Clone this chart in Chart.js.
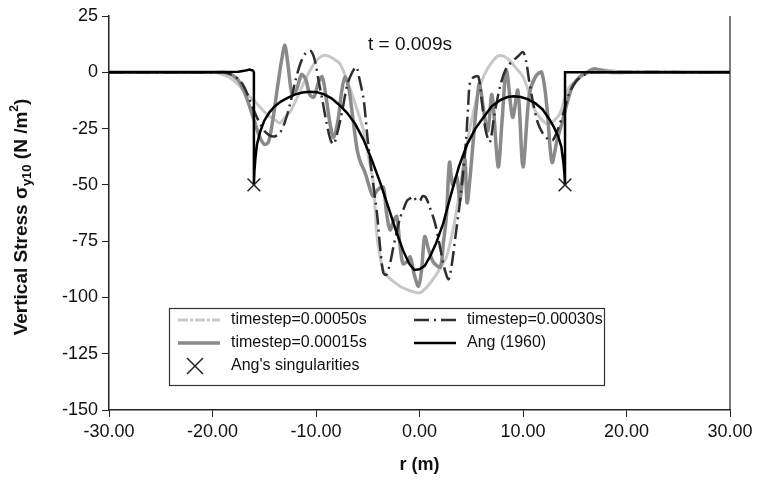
<!DOCTYPE html>
<html>
<head>
<meta charset="utf-8">
<script src="https://cdn.jsdelivr.net/npm/chart.js@4/dist/chart.umd.min.js"></script>
<style>
  body { margin: 0; background: #fff; }
</style>
</head>
<body>
<canvas id="myChart" width="757" height="482"></canvas>
<script>
// x ticks / y ticks
var xTicks = [-30, -20, -10, 0, 10, 20, 30];
var yTicks = [25, 0, -25, -50, -75, -100, -125, -150];

// timestep = 0.00050s (light grey)
var r050 = [-30, -20, -19.5, -19, -18.5, -18, -17.5, -17, -16.5, -16, -15.5, -15, -14.5, -14, -13.5, -13, -12.5, -12, -11.5, -11, -10.5, -10, -9.5, -9, -8.5, -8, -7.7, -7.3, -7, -6.5, -6, -5.4, -5, -4.5, -4.3, -4.1, -3.8, -3.5, -3, -2.5, -1.9, -1.2, -0.6, 0, 0.6, 1.3, 2, 2.6, 3, 3.3, 3.7, 4.1, 4.5, 5, 5.5, 6, 6.5, 7, 7.5, 7.8, 8.2, 8.7, 9.3, 10, 10.5, 11, 11.6, 12.3, 13, 13.6, 14, 14.5, 15.3, 16.1, 17, 18, 19, 20.6, 30];
var v050 = [0, 0, -0.3, -1, -2, -3.5, -5.5, -8, -10.5, -12.5, -15, -17.5, -19.5, -21, -22.5, -20, -17.5, -13, -8, -3, 1.5, 5, 7, 7.5, 6.5, 5, 3.9, 0, -3.6, -10, -17, -26, -36, -48, -60, -73, -82, -88, -91, -93, -95, -96.5, -97.5, -98, -96, -92, -87, -82, -75, -68.7, -58, -46, -34, -22, -12, -4, 1, 4.5, 7, 7.5, 7, 5.3, 2, -2, -8, -15.4, -20, -22.8, -21.5, -18, -12, -6.5, -3, -0.6, 0.5, 1, 0.5, 0, 0];

// timestep = 0.00030s (dark dashed)
var r030 = [-30, -19, -18.5, -18, -17.5, -17, -16.5, -16, -15.5, -15, -14.5, -14, -13.5, -13, -12.5, -12, -11.5, -11, -10.5, -10.1, -9.7, -9.4, -9, -8.6, -8.3, -8, -7.5, -7, -6.5, -6.1, -5.8, -5.4, -5, -4.6, -4.1, -3.8, -3.5, -3.2, -2.8, -2.5, -2.2, -1.9, -1.56, -1.2, -0.9, -0.6, -0.3, 0.05, 0.3, 0.6, 1, 1.5, 2, 2.4, 2.8, 3.1, 3.5, 3.9, 4.2, 4.5, 4.7, 4.9, 5.3, 5.7, 6, 6.4, 6.8, 7.2, 7.8, 8.4, 9, 9.5, 10, 10.3, 10.6, 11, 11.4, 11.9, 12.5, 12.9, 13.4, 13.9, 14.5, 15.2, 16, 16.8, 30];
var v030 = [0, 0, -0.5, -1.5, -3, -6, -11, -17, -22, -26, -28, -28.5, -27, -22, -14, -4, 4, 8.5, 9.5, 5, -5, -12, -22, -30, -32, -28, -18, -6, 0, 2.4, -3, -12, -30, -45, -63, -78, -89, -90, -84, -77, -71, -65, -61, -57, -56, -55, -57, -57, -55, -55.5, -60, -67, -78, -87, -92, -86, -72, -58, -45, -30, -15, -4, -2, -2, -12, -26, -31, -20, -6, 2, 5, 7, 9, 5, -4, -14, -22, -27, -30, -30, -25, -18, -9, -3.6, -1, 0, 0];

// timestep = 0.00015s (medium grey)
var r015 = [-30, -19, -18.5, -18, -17.5, -17, -16.5, -16, -15.5, -15, -14.6, -14.2, -13.7, -13.3, -13, -12.7, -12.3, -11.9, -11.4, -11, -10.6, -10.2, -9.8, -9.4, -9, -8.6, -8.3, -7.9, -7.5, -7.2, -6.8, -6.4, -6, -5.7, -5.3, -4.9, -4.5, -4, -3.5, -3.2, -2.85, -2.5, -2.2, -1.9, -1.6, -1.2, -0.9, -0.5, -0.1, 0.2, 0.5, 0.9, 1.3, 2, 2.3, 2.6, 2.9, 3.2, 3.6, 3.9, 4.2, 4.4, 4.6, 4.9, 5.2, 5.5, 5.8, 6.2, 6.6, 7, 7.6, 8, 8.4, 9, 9.5, 10, 10.6, 11.2, 11.8, 12.3, 12.8, 13.3, 13.8, 14.3, 14.8, 15.5, 16.2, 16.8, 17.5, 18.4, 20, 30];
var v015 = [0, 0, -0.5, -1.5, -3.5, -8, -14, -21, -28, -32, -31, -22, -6, 6, 12, 3, -10, -8, -1, -3, -10, -11, -5, -2, -12, -24, -29, -22, -8, -2, -8, -22, -35, -40, -44, -50, -55, -52, -51, -62, -70, -66, -64, -76, -85, -84, -82, -90, -95, -88, -73, -79, -84, -86.5, -76, -64, -40, -50, -46.5, -57, -45, -39, -58, -46, -30, -15, -5, -17, -26, -10, -42, -20, 1, -20, -8, -42, -10, -2, 0, -15, -40, -30, -22, -13, -6, -2, 0, 1.5, 1, 0, 0, 0];

// Ang (1960)
var rAng = [-30, -20, -17.5, -16.8, -16.4, -16.1, -16, -16, -15.95, -15.85, -15.7, -15.4, -15, -14.5, -14, -13.4, -12.7, -12, -11.3, -10.6, -9.9, -9.2, -8.5, -7.8, -7, -6.2, -5.4, -4.6, -3.8, -3, -2.3, -1.6, -1, -0.5, 0, 0.5, 1, 1.6, 2.3, 3, 3.8, 4.6, 5.4, 6.2, 7, 7.8, 8.5, 9.1, 9.8, 10.5, 11.2, 11.9, 12.5, 13, 13.4, 13.7, 13.9, 14, 14.06, 14.06, 20, 30];
var vAng = [0, 0, 0.2, 0.8, 1.2, 0.8, 0, -50, -44, -38, -32, -26.5, -21.5, -17.8, -15.2, -13, -11.3, -9.8, -9, -8.6, -8.9, -9.8, -11.6, -14.3, -18, -23, -30, -39, -49, -60, -70, -79, -85, -87.8, -87.5, -86, -82, -76, -67, -55, -42, -32, -25, -19.9, -15, -12.4, -11, -10.6, -11, -12, -13.8, -16.5, -20.5, -24.5, -28.5, -33, -40, -45, -50, 0, 0, 0];

// Ang's singularities
var rSing = [-16, 14.06];
var vSing = [-50, -50];

var FONT = "'Liberation Sans', Arial, Helvetica, sans-serif";

function pts(rs, vs) {
  return rs.map(function (r, i) { return { x: r, y: vs[i] }; });
}

// legend drawn inside the plot, two columns like the original
var legendPlugin = {
  id: 'boxLegend',
  afterDraw: function (chart) {
    var ctx = chart.ctx;
    var ds = chart.data.datasets;
    ctx.save();
    ctx.fillStyle = '#fff';
    ctx.fillRect(169, 308, 435, 77);
    ctx.strokeStyle = '#333';
    ctx.lineWidth = 1.2;
    ctx.strokeRect(169.5, 308.5, 435, 77);
    var items = [
      { d: ds[0], x: 178, y: 320 },
      { d: ds[1], x: 414, y: 320 },
      { d: ds[2], x: 178, y: 343 },
      { d: ds[3], x: 414, y: 343 },
      { d: ds[4], x: 178, y: 366 }
    ];
    ctx.font = '16px ' + FONT;
    ctx.textBaseline = 'middle';
    items.forEach(function (it) {
      var d = it.d;
      if (d.showLine === false) {
        ctx.strokeStyle = d.borderColor;
        ctx.lineWidth = 1.5;
        ctx.setLineDash([]);
        ctx.beginPath();
        ctx.moveTo(it.x + 9, it.y - 8); ctx.lineTo(it.x + 25, it.y + 8);
        ctx.moveTo(it.x + 25, it.y - 8); ctx.lineTo(it.x + 9, it.y + 8);
        ctx.stroke();
      } else {
        ctx.strokeStyle = d.borderColor;
        ctx.lineWidth = d.borderWidth;
        ctx.setLineDash(d.legendDash || d.borderDash || []);
        ctx.beginPath();
        ctx.moveTo(it.x, it.y); ctx.lineTo(it.x + 42, it.y);
        ctx.stroke();
      }
      ctx.setLineDash([]);
      ctx.fillStyle = '#111';
      ctx.fillText(d.label, it.x + 53, it.y);
    });
    ctx.restore();
  }
};

// axis titles, right frame line and the time label
var textPlugin = {
  id: 'extraText',
  afterDraw: function (chart) {
    var ctx = chart.ctx;
    var a = chart.chartArea;
    ctx.save();
    ctx.strokeStyle = '#222';
    ctx.lineWidth = 1.2;
    ctx.beginPath();
    ctx.moveTo(a.right, a.top);
    ctx.lineTo(a.right, a.bottom);
    ctx.stroke();

    ctx.fillStyle = '#111';
    ctx.textBaseline = 'middle';
    ctx.textAlign = 'center';
    ctx.font = '19px ' + FONT;
    ctx.fillText('t = 0.009s', 410, 45);

    ctx.font = 'bold 18px ' + FONT;
    ctx.fillText('r (m)', (a.left + a.right) / 2, 465);

    // y title with subscript and superscript
    var parts = [
      { t: 'Vertical Stress \u03c3', f: 'bold 19px ', dy: 0 },
      { t: 'y10', f: 'bold 13px ', dy: 5 },
      { t: ' (N /m', f: 'bold 19px ', dy: 0 },
      { t: '2', f: 'bold 12px ', dy: -7 },
      { t: ')', f: 'bold 19px ', dy: 0 }
    ];
    var total = 0;
    parts.forEach(function (p) { ctx.font = p.f + FONT; p.w = ctx.measureText(p.t).width; total += p.w; });
    ctx.translate(22, 217);
    ctx.rotate(-Math.PI / 2);
    ctx.textAlign = 'left';
    var x = -total / 2;
    parts.forEach(function (p) {
      ctx.font = p.f + FONT;
      ctx.fillText(p.t, x, p.dy);
      x += p.w;
    });
    ctx.restore();
  }
};

var ctx = document.getElementById('myChart');
var myChart = new Chart(ctx, {
  type: 'scatter',
  data: {
    datasets: [
      {
        label: 'timestep=0.00050s',
        data: pts(r050, v050),
        showLine: true,
        borderColor: '#c8c8c8',
        borderWidth: 3,
        legendDash: [10, 2, 3, 2],
        pointRadius: 0,
        tension: 0.3,
        order: 4
      },
      {
        label: 'timestep=0.00030s',
        data: pts(r030, v030),
        showLine: true,
        borderColor: '#2e2e2e',
        borderWidth: 2.5,
        borderDash: [15, 5, 2, 5],
        pointRadius: 0,
        tension: 0.3,
        order: 2
      },
      {
        label: 'timestep=0.00015s',
        data: pts(r015, v015),
        showLine: true,
        borderColor: '#8a8a8a',
        borderWidth: 3.5,
        pointRadius: 0,
        tension: 0.3,
        order: 3
      },
      {
        label: 'Ang (1960)',
        data: pts(rAng, vAng),
        showLine: true,
        borderColor: '#000',
        borderWidth: 2.5,
        pointRadius: 0,
        tension: 0,
        order: 1
      },
      {
        label: "Ang's singularities",
        data: pts(rSing, vSing),
        showLine: false,
        borderColor: '#222',
        backgroundColor: '#222',
        pointStyle: 'crossRot',
        pointRadius: 9,
        borderWidth: 1.5,
        order: 0
      }
    ]
  },
  options: {
    responsive: false,
    animation: false,
    layout: { padding: { left: 0, right: 27, top: 16, bottom: 0 } },
    plugins: {
      legend: { display: false },
      tooltip: { enabled: false }
    },
    scales: {
      x: {
        type: 'linear',
        min: -30,
        max: 30,
        afterBuildTicks: function (s) { s.ticks = xTicks.map(function (v) { return { value: v }; }); },
        afterFit: function (s) { s.height = 72; },
        ticks: {
          color: '#111',
          font: { family: FONT, size: 18 },
          padding: 4,
          maxRotation: 0,
          callback: function (v) { return Number(v).toFixed(2); }
        },
        grid: { drawOnChartArea: false, color: '#222', tickLength: 7 },
        border: { color: '#222', width: 1.5 }
      },
      y: {
        min: -150,
        max: 25,
        afterBuildTicks: function (s) { s.ticks = yTicks.map(function (v) { return { value: v }; }); },
        afterFit: function (s) { s.width = 109; },
        ticks: {
          color: '#111',
          font: { family: FONT, size: 18 },
          padding: 4
        },
        grid: { drawOnChartArea: false, color: '#222', tickLength: 7 },
        border: { color: '#222', width: 1.5 }
      }
    }
  },
  plugins: [legendPlugin, textPlugin]
});
</script>
</body>
</html>
